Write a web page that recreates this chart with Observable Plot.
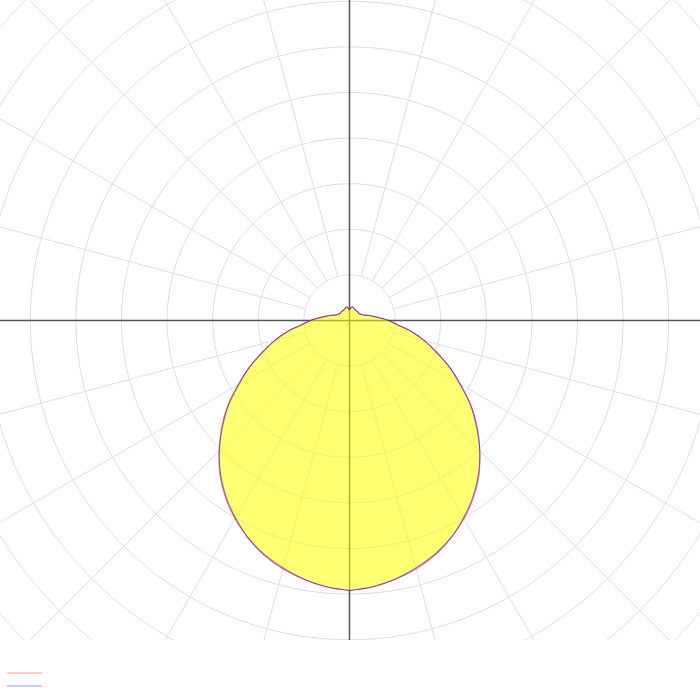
<!DOCTYPE html>
<html>
<head>
<meta charset="utf-8">
<script src="https://cdn.jsdelivr.net/npm/d3@7"></script>
<script src="https://cdn.jsdelivr.net/npm/@observablehq/plot@0.6"></script>
<style>
  body { margin: 0; background: white; font-family: "DejaVu Sans", sans-serif; }
  #wrap { position: relative; width: 700px; height: 700px; }
  #legend { position: absolute; left: 7px; top: 672px; }
  .lg { width: 35px; height: 2px; margin-bottom: 11px; }
</style>
</head>
<body>
<div id="wrap">
  <div id="chart"></div>
  <div id="legend">
    <div class="lg" style="background:#ffc8c8"></div>
    <div class="lg" style="background:#c8c8ff"></div>
  </div>
</div>
<script>
// Polar angles (degrees from nadir) and intensities for the two C-planes
const angles = [0,5,10,15,20,25,30,35,40,45,50,55,60,65,70,75,80,85,90,95,100,105,110,115,120,125,130,135,140,145,150,155,160,165,170,175,180];
const c0   = [296,293,288,282,274,263,251,237,221,202,183,163,141,121,102,85,69,53,43,34,27,22,18,15.5,14,13,13,13,13,13,13,13.5,14,15,15,13,12];
const c90  = [296,293,288,281,273,263,250,236,220,202,182,162,140,121,101,85,69,52,43,33,26,21,17,15,14,13,13,13,13,13,13,13.5,14,15,15,13,12];
// grid ring values and radial line angles
const rings = [50,100,150,200,250,300,350,400,450,500,550];
const spokes = d3.range(0, 360, 15);

const rad = a => a * Math.PI / 180;

const pts = angles.map((a, i) => ({a, r0: c0[i], r90: c90[i]}));
function closed(key) {
  const right = pts.map(d => ({x: d[key] * Math.sin(rad(d.a)), y: -d[key] * Math.cos(rad(d.a))}));
  const left = pts.slice().reverse().slice(1).map(d => ({x: -d[key] * Math.sin(rad(d.a)), y: -d[key] * Math.cos(rad(d.a))}));
  return right.concat(left);
}
const ringPts = rings.flatMap(r => d3.range(0, 361, 2).map(t => ({r, x: r * Math.sin(rad(t)), y: r * Math.cos(rad(t))})));

const k = 0.912; // px per unit
const chart = Plot.plot({
  width: 700, height: 640,
  margin: 0,
  x: {domain: [-349 / k, 351 / k], axis: null},
  y: {domain: [-320 / k, 320 / k], axis: null},
  marks: [
    Plot.line(ringPts, {x: "x", y: "y", z: "r", stroke: "#dddddd", strokeWidth: 1, clip: true}),
    Plot.link(spokes, {
      x1: t => 50 * Math.sin(rad(t)), y1: t => 50 * Math.cos(rad(t)),
      x2: t => 700 * Math.sin(rad(t)), y2: t => 700 * Math.cos(rad(t)),
      stroke: "#dddddd", strokeWidth: 1, clip: true
    }),
    Plot.ruleX([0], {stroke: "#555", strokeWidth: 1.5}),
    Plot.ruleY([0], {stroke: "#555", strokeWidth: 1.5}),
    Plot.areaX(pts, {
      y: d => -d.r0 * Math.cos(rad(d.a)),
      x1: d => -d.r0 * Math.sin(rad(d.a)),
      x2: d => d.r0 * Math.sin(rad(d.a)),
      fill: "#ffff00", fillOpacity: 0.55, curve: "catmull-rom"
    }),
    Plot.line(closed("r0"), {x: "x", y: "y", stroke: "rgba(255,0,0,0.5)", strokeWidth: 1.1, curve: "catmull-rom"}),
    Plot.line(closed("r90"), {x: "x", y: "y", stroke: "rgba(0,0,255,0.5)", strokeWidth: 1.1, curve: "catmull-rom"})
  ]
});
document.getElementById("chart").appendChild(chart);
</script>
</body>
</html>
